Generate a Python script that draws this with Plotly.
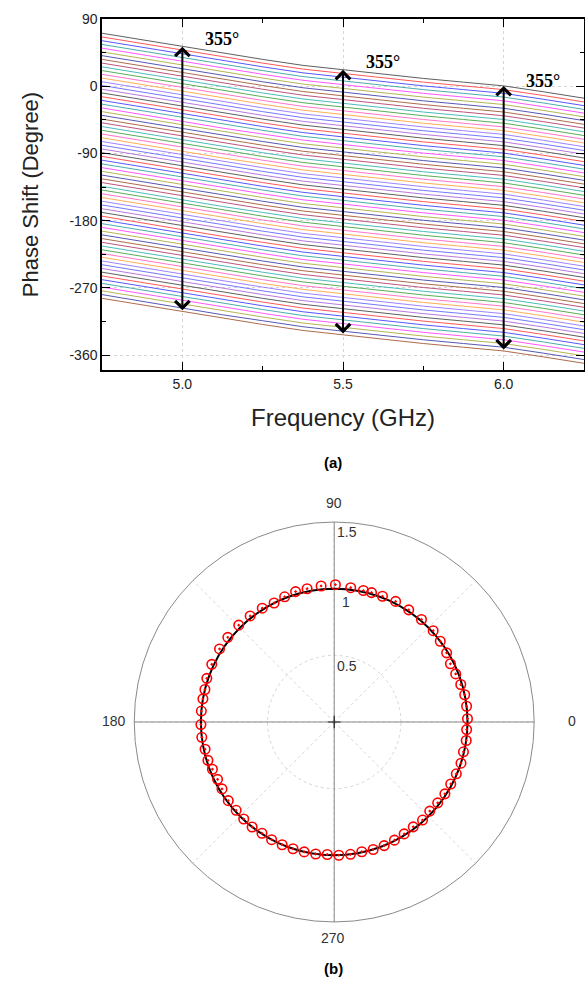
import plotly.graph_objects as go

# ---- (a) phase shift vs frequency ----
freq_ghz = [4.75, 4.875, 5.0, 5.125, 5.25, 5.375, 5.5, 5.625, 5.75, 5.875, 6.0, 6.125, 6.25]
# phase of the reference (first) state
phase_ref = [71, 62, 53, 44, 36, 28, 22, 16, 10.5, 5.5, 0.5, -7.5, -16]
# relative phase of each of the 72 states (deg)
state_offsets = [0, 5, 10, 15, 20, 25, 30, 35, 40, 45, 50, 55, 60, 65, 70, 75, 80, 85,
                 90, 95, 100, 105, 110, 115, 120, 125, 130, 135, 140, 145, 150, 155, 160, 165,
                 170, 175, 180, 185, 190, 195, 200, 205, 210, 215, 220, 225, 230, 235, 240,
                 245, 250, 255, 260, 265, 270, 275, 280, 285, 290, 295, 300, 305, 310, 315,
                 320, 325, 330, 335, 340, 345, 350, 355]
line_colors = ['#444444', '#ff3b3b', '#3b3bff', '#2e9e9e', '#ff3bff', '#a8a838', '#3b3ba8',
               '#a0522d', '#b03868', '#2eb0b0', '#3ba03b', '#ff5fbf', '#ffa03b', '#8f6fff',
               '#5f5fff', '#b060d8']
arrow_freqs = [5.0, 5.5, 6.0]
arrow_label = "355°"
label_freqs = [5.123, 5.623, 6.123]
label_phase = [63, 32, 7]
y_ticks = [90, 0, -90, -180, -270, -360]
y_ticktext = ["90", "0", "-90", "-180", "-270", "-360"]
x_ticks = [5.0, 5.5, 6.0]

# ---- (b) polar: measured amplitude/phase of the states ----
meas_phase = [1.4, 6.8, 11.8, 16.5, 21.6, 26.6, 31.6, 37.3, 42.7, 49.6, 56.4, 63.0, 69.0,
              73.9, 77.5, 83.0, 89.5, 95.5, 101.5, 106.5, 111.6, 116.8, 122.3, 128.4, 134.6,
              141.5, 147.5, 154.8, 161.1, 165.9, 170.0, 175.3, 181.1, 186.6, 191.9, 196.9,
              201.2, 206.2, 210.8, 216.6, 222.0, 227, 232, 237, 242, 247, 252, 257, 262,
              267, 272, 277, 282, 287, 292, 297, 302, 307, 312, 317, 322, 327, 332, 337,
              342, 347, 352, 356.7]
meas_amp = [1.0, 1.0, 1.0, 0.99, 0.98, 0.975, 0.99, 1.0, 1.01, 1.01, 1.01, 1.015, 1.01,
            1.01, 1.01, 1.015, 1.03, 1.025, 1.02, 1.02, 1.01, 1.0, 1.01, 1.015, 1.02,
            1.02, 1.02, 1.015, 1.01, 1.0, 1.0, 1.0, 1.0, 1.0, 0.99, 0.99,
            0.98, 0.975, 0.98, 0.99, 0.99, 0.995, 1.0, 0.995, 1.0, 1.0, 1.0, 1.0, 1.0,
            0.995, 1.0, 1.0, 0.995, 1.0, 1.0, 0.995, 0.99, 0.985, 0.99, 0.98, 0.985, 0.99, 0.99, 0.995,
            1.0, 0.995, 1.0, 0.995]
ideal_phase = list(range(0, 365, 5))
ideal_amp = [1.0] * len(ideal_phase)
radial_ticks = [0.5, 1, 1.5]
radial_labels = ["0.5", "1", "1.5"]
axis_angles = [0, 90, 180, 270]
axis_labels = ["0", "90", "180", "270"]

fig = go.Figure()

for k, off in enumerate(state_offsets):
    fig.add_trace(go.Scatter(
        x=freq_ghz, y=[p - off for p in phase_ref], mode='lines',
        line=dict(color=line_colors[k % len(line_colors)], width=1),
        opacity=0.85, showlegend=False, hoverinfo='skip'))

# double-headed arrows spanning the 355 deg range
for f, tx, ty in zip(arrow_freqs, label_freqs, label_phase):
    top = phase_ref[freq_ghz.index(f)]
    fig.add_annotation(x=f, y=top, ax=f, ay=top - state_offsets[-1], xref='x', yref='y',
                       axref='x', ayref='y', text='', showarrow=True, arrowhead=4,
                       startarrowhead=4, arrowside='end+start', arrowsize=1.4,
                       startarrowsize=1.4, arrowwidth=2, arrowcolor='black')
    fig.add_annotation(x=tx, y=ty, xref='x', yref='y', text=arrow_label, showarrow=False,
                       font=dict(family='Liberation Serif', size=18, color='black',
                                 weight='bold'))

fig.update_xaxes(domain=[0.1744, 0.9983], range=[4.75, 6.25], tickvals=x_ticks,
                 tickformat='.1f', ticks='inside', ticklen=8, tickwidth=1.2,
                 tickcolor='black', minor=dict(dtick=0.25, tick0=5.0, ticks='inside',
                                               ticklen=4, tickcolor='black', showgrid=False),
                 mirror='allticks', showline=True, linecolor='black', linewidth=1.5,
                 showgrid=True, gridcolor='#d6d6d6', griddash='dot', gridwidth=1,
                 zeroline=False, automargin=False,
                 tickfont=dict(family='Liberation Sans', size=14, color='#222'),
                 title=dict(text='Frequency (GHz)', standoff=19,
                            font=dict(family='Liberation Sans', size=24, color='#222')))
fig.update_yaxes(domain=[0.6251, 0.9807], range=[-380, 90], tickvals=y_ticks,
                 ticktext=y_ticktext, ticks='inside', ticklen=8, tickwidth=1.2,
                 tickcolor='black', minor=dict(dtick=45, tick0=0, ticks='inside',
                                               ticklen=4, tickcolor='black', showgrid=False),
                 mirror='allticks', showline=True, linecolor='black', linewidth=1.5,
                 showgrid=True, gridcolor='#d6d6d6', griddash='dot', gridwidth=1,
                 zeroline=False, automargin=False,
                 tickfont=dict(family='Liberation Sans', size=14, color='#222'),
                 title=dict(text='Phase Shift (Degree)', standoff=25,
                            font=dict(family='Liberation Sans', size=22, color='#222')))

# ---- polar panel ----
for a in axis_angles:
    fig.add_trace(go.Scatterpolar(r=[0, radial_ticks[-1]], theta=[a, a], mode='lines',
                                  line=dict(color='#8a8a8a', width=1), subplot='polar',
                                  showlegend=False, hoverinfo='skip'))
fig.add_trace(go.Scatterpolar(r=ideal_amp, theta=ideal_phase, mode='lines',
                              line=dict(color='black', width=2), subplot='polar',
                              showlegend=False))
fig.add_trace(go.Scatterpolar(r=meas_amp, theta=meas_phase, mode='markers',
                              marker=dict(symbol='circle-open-dot', size=9.5, color='#ff0000',
                                          line=dict(width=1.6, color='#ff0000')),
                              subplot='polar', showlegend=False))
fig.add_trace(go.Scatterpolar(r=[0], theta=[0], mode='markers',
                              marker=dict(symbol='cross-thin', size=9,
                                          line=dict(width=1.2, color='#222')),
                              subplot='polar', showlegend=False, hoverinfo='skip'))

# tick labels of the polar panel (paper coords, placed as in the original)
label_font = dict(family='Liberation Sans', size=14, color='#333')
polar_labels = [
    (axis_labels[0], 572, 721), (axis_labels[1], 334, 503),
    (axis_labels[2], 114, 721), (axis_labels[3], 333, 938),
    (radial_labels[0], 347, 666), (radial_labels[1], 346, 602),
    (radial_labels[2], 347, 532),
]

fig.update_layout(
    width=585, height=987, margin=dict(l=0, r=0, t=0, b=0, autoexpand=False),
    paper_bgcolor='white', plot_bgcolor='white',
    polar=dict(
        domain=dict(x=[0.2294, 0.9132], y=[0.0659, 0.4711]),
        bgcolor='white',
        radialaxis=dict(range=[0, 1.5], tickvals=radial_ticks, showticklabels=False,
                        ticks='', showline=False, showgrid=True, gridcolor='#d6d6d6',
                        griddash='dot', angle=90),
        angularaxis=dict(tickmode='array', tickvals=[0, 45, 90, 135, 180, 225, 270, 315],
                         showticklabels=False,
                         showline=True, linecolor='#8a8a8a', linewidth=1, ticks='',
                         showgrid=True, gridcolor='#d6d6d6', griddash='dot'),
    ),
    annotations=list(fig.layout.annotations) + [
        dict(text=t, x=px / 585, y=1 - py / 987, xref='paper', yref='paper',
             xanchor='center', yanchor='middle', showarrow=False, font=label_font)
        for t, px, py in polar_labels
    ] + [
        dict(text='(a)', x=0.5695, y=1 - 463 / 987, xref='paper', yref='paper',
             xanchor='center', yanchor='middle', showarrow=False,
             font=dict(family='Liberation Sans', size=15, color='black', weight='bold')),
        dict(text='(b)', x=0.5695, y=1 - 968 / 987, xref='paper', yref='paper',
             xanchor='center', yanchor='middle', showarrow=False,
             font=dict(family='Liberation Sans', size=15, color='black', weight='bold')),
    ],
)

fig.write_html("out.html", config={'displayModeBar': False},
               post_script="document.body.style.margin='0';")
